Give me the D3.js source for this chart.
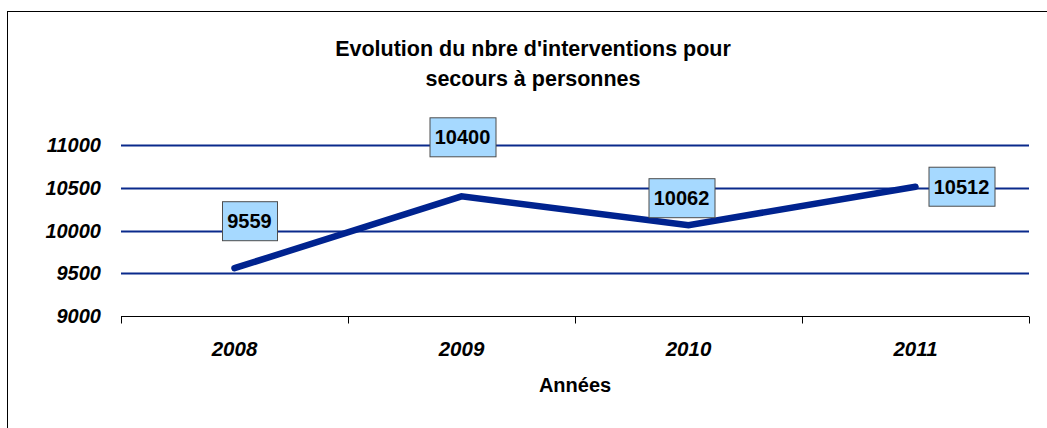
<!DOCTYPE html>
<html>
<head>
<meta charset="utf-8">
<script src="https://cdn.jsdelivr.net/npm/d3@7"></script>
<style>
  body { margin: 0; background: #fff; }
  text { font-family: "Liberation Sans", Arial, Helvetica, sans-serif; }
</style>
</head>
<body>
<script>
// data
var years = ["2008", "2009", "2010", "2011"];
var interventions = [9559, 10400, 10062, 10512];
var yTicks = [9000, 9500, 10000, 10500, 11000];
var titleLines = ["Evolution du nbre d'interventions pour", "secours à personnes"];
var xTitle = "Années";

var width = 1047, height = 428;
var plot = {left: 121, right: 1029, top: 145, bottom: 316};

var svg = d3.select("body").append("svg")
    .attr("width", width)
    .attr("height", height);

// chart frame, cut off on the right and bottom like the picture
svg.append("rect")
    .attr("x", 7.5).attr("y", 11.5)
    .attr("width", 1100).attr("height", 500)
    .attr("fill", "#fff")
    .attr("stroke", "#000")
    .attr("stroke-width", 1);

var x = d3.scaleBand().domain(years).range([plot.left, plot.right]);
var y = d3.scaleLinear().domain([9000, 11000]).range([plot.bottom, plot.top]);

// title
svg.append("g").selectAll("text")
    .data(titleLines)
    .enter()
    .append("text")
    .attr("x", 533)
    .attr("y", function(d, i) { return 56 + i * 30; })
    .attr("text-anchor", "middle")
    .style("font-size", "21.5px")
    .style("font-weight", "bold")
    .text(function(d) { return d; });

// gridlines
svg.append("g").selectAll("line")
    .data(yTicks.filter(function(t) { return t > 9000; }))
    .enter()
    .append("line")
    .attr("x1", plot.left).attr("x2", plot.right)
    .attr("y1", function(d) { return Math.round(y(d)) + 0.5; })
    .attr("y2", function(d) { return Math.round(y(d)) + 0.5; })
    .attr("stroke", "#0a2a8c")
    .attr("stroke-width", 2);

// y tick labels
svg.append("g").selectAll("text")
    .data(yTicks)
    .enter()
    .append("text")
    .attr("x", 101)
    .attr("y", function(d) { return y(d) + 7; })
    .attr("text-anchor", "end")
    .style("font-size", "20px")
    .style("font-weight", "bold")
    .style("font-style", "italic")
    .text(function(d) { return d; });

// x axis with ticks at category boundaries
var xAxis = svg.append("g").attr("transform", "translate(0," + (plot.bottom + 0.5) + ")");
xAxis.append("line")
    .attr("x1", plot.left).attr("x2", plot.right)
    .attr("stroke", "#000").attr("stroke-width", 1);
var bounds = years.map(function(d) { return x(d); }).concat([plot.right]);
xAxis.selectAll("line.tick")
    .data(bounds)
    .enter()
    .append("line")
    .attr("class", "tick")
    .attr("x1", function(d) { return Math.round(d) + 0.5; })
    .attr("x2", function(d) { return Math.round(d) + 0.5; })
    .attr("y1", 0).attr("y2", 7)
    .attr("stroke", "#000");
xAxis.selectAll("text")
    .data(years)
    .enter()
    .append("text")
    .attr("x", function(d) { return x(d) + x.bandwidth() / 2; })
    .attr("y", 39)
    .attr("text-anchor", "middle")
    .style("font-size", "20.5px")
    .style("font-weight", "bold")
    .style("font-style", "italic")
    .text(function(d) { return d; });

svg.append("text")
    .attr("x", 575)
    .attr("y", 392)
    .attr("text-anchor", "middle")
    .style("font-size", "20px")
    .style("font-weight", "bold")
    .text(xTitle);

// the series line
var line = d3.line()
    .x(function(d, i) { return x(years[i]) + x.bandwidth() / 2; })
    .y(function(d) { return y(d); });

svg.append("path")
    .datum(interventions)
    .attr("d", line)
    .attr("fill", "none")
    .attr("stroke", "#00238f")
    .attr("stroke-width", 6.5)
    .attr("stroke-linecap", "round")
    .attr("stroke-linejoin", "miter");

// data labels - placed around each point the way excel put them
var labelShift = [[15, -47], [1, -59], [-7, -27], [46, 0]];
var labels = svg.append("g").selectAll("g")
    .data(interventions)
    .enter()
    .append("g")
    .attr("transform", function(d, i) {
      var cx = x(years[i]) + x.bandwidth() / 2 + labelShift[i][0];
      var cy = y(d) + labelShift[i][1];
      return "translate(" + cx + "," + cy + ")";
    });

labels.append("text")
    .attr("text-anchor", "middle")
    .attr("y", 7)
    .style("font-size", "20px")
    .style("font-weight", "bold")
    .text(function(d) { return d; });

labels.insert("rect", "text")
    .each(function() {
      var bb = this.parentNode.querySelector("text").getBBox();
      var w = Math.round(bb.width) + 10;
      d3.select(this)
        .attr("x", -w / 2 + 0.5).attr("y", -19.5)
        .attr("width", w).attr("height", 39);
    })
    .attr("fill", "#a6d9ff")
    .attr("stroke", "#4d4d4d")
    .attr("stroke-width", 1);
</script>
</body>
</html>
